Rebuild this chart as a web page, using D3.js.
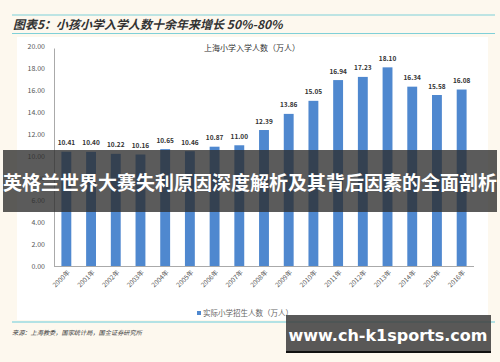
<!DOCTYPE html>
<html><head><meta charset="utf-8">
<script src="https://cdn.jsdelivr.net/npm/d3@7"></script>
<style>html,body{margin:0;padding:0;background:#fdf8ee;}svg{display:block;}</style>
</head><body>
<script>
const years = ["2000年","2001年","2002年","2003年","2004年","2005年","2006年","2007年","2008年","2009年","2010年","2011年","2012年","2013年","2014年","2015年","2016年"];
const enrolment = [10.41,10.40,10.22,10.16,10.65,10.46,10.87,11.00,12.39,13.86,15.05,16.94,17.23,18.10,16.34,15.58,16.08];
const yTicks = [0,2,4,6,8,10,12,14,16,18,20];
const headerText = "图表5：小孩小学入学人数十余年来增长 50%-80%";
const chartTitle = "上海小学入学人数（万人）";
const legendLabel = "实际小学招生人数（万人）";
const sourceText = "来源：上海教委，国家统计局，国金证券研究所";
const overlayText = "英格兰世界大赛失利原因深度解析及其背后因素的全面剖析";
const watermarkText = "www.ch-k1sports.com";

const W = 500, H = 362;
const font = "'Noto Sans CJK SC','Noto Sans',sans-serif";
const svg = d3.select("body").append("svg").attr("width", W).attr("height", H);

svg.append("rect").attr("width", W).attr("height", H).attr("fill", "#fdf8ee");
svg.append("rect").attr("x", 17).attr("y", 37).attr("width", 471).attr("height", 283).attr("fill", "#ffffff");

// header lines
svg.append("line").attr("x1", 12).attr("x2", 495).attr("y1", 15).attr("y2", 15).attr("stroke", "#7fd0d8").attr("stroke-width", 1.2);
svg.append("line").attr("x1", 12).attr("x2", 495).attr("y1", 33.5).attr("y2", 33.5).attr("stroke", "#7fd0d8").attr("stroke-width", 1.2);
svg.append("text").attr("x", 13).attr("y", 28.5).attr("font-family", font).attr("font-size", 12)
  .attr("font-weight", "bold").attr("font-style", "italic").attr("fill", "#333").text(headerText);

const x = d3.scaleBand().domain(years).range([54, 474]).paddingInner(0.6).paddingOuter(0.3);
const y = d3.scaleLinear().domain([0, 20]).range([266, 46.5]);

// y axis labels
svg.append("g").selectAll("text").data(yTicks).join("text")
  .attr("x", 45).attr("y", d => y(d) + 2.5).attr("text-anchor", "end")
  .attr("font-family", font).attr("font-size", 7).attr("fill", "#555")
  .text(d => d.toFixed(2));
svg.append("line").attr("x1", 54.5).attr("x2", 54.5).attr("y1", y(20) + 2).attr("y2", y(0)).attr("stroke", "#aaa");
svg.append("line").attr("x1", 54).attr("x2", 474).attr("y1", y(0) + 0.5).attr("y2", y(0) + 0.5).attr("stroke", "#aaa");

// chart title
svg.append("text").attr("x", 252).attr("y", 51).attr("text-anchor", "middle").attr("font-family", font)
  .attr("font-size", 8).attr("fill", "#333").text(chartTitle);

// bars
svg.append("g").selectAll("rect").data(enrolment).join("rect")
  .attr("x", (d, i) => x(years[i])).attr("width", x.bandwidth())
  .attr("y", d => y(d)).attr("height", d => y(0) - y(d)).attr("fill", "#4f88cf");

// value labels
svg.append("g").selectAll("text").data(enrolment).join("text")
  .attr("x", (d, i) => x(years[i]) + x.bandwidth() / 2).attr("y", d => y(d) - 6.5)
  .attr("text-anchor", "middle").attr("font-family", font).attr("font-size", 6.5).attr("font-weight", "bold")
  .attr("fill", "#333").text(d => d.toFixed(2));

// x labels
svg.append("g").selectAll("text").data(years).join("text")
  .attr("transform", d => `translate(${x(d) + x.bandwidth() / 2 + 4},${y(0) + 7}) rotate(-45)`)
  .attr("text-anchor", "end").attr("font-family", font).attr("font-size", 6.5).attr("fill", "#555").text(d => d);

// legend
svg.append("rect").attr("x", 197).attr("y", 311).attr("width", 4).attr("height", 4).attr("fill", "#4f88cf");
svg.append("text").attr("x", 203).attr("y", 316).attr("font-family", font).attr("font-size", 7.5).attr("fill", "#666").text(legendLabel);

// bottom line and source
svg.append("line").attr("x1", 12).attr("x2", 495).attr("y1", 322).attr("y2", 322).attr("stroke", "#9adbe0").attr("stroke-width", 1.5);
svg.append("text").attr("x", 12).attr("y", 335).attr("font-family", font).attr("font-size", 6.2).attr("font-style", "italic").attr("fill", "#444").text(sourceText);

// overlay band
svg.append("rect").attr("x", 3).attr("y", 150).attr("width", 494).attr("height", 62).attr("fill", "rgba(45,45,45,0.78)");
svg.append("text").attr("x", 250).attr("y", 190).attr("text-anchor", "middle").attr("font-family", font)
  .attr("font-size", 19).attr("font-weight", "bold").attr("fill", "#fff").text(overlayText);

// watermark
svg.append("rect").attr("x", 286).attr("y", 315).attr("width", 205).attr("height", 38).attr("fill", "rgba(60,60,60,0.85)");
svg.append("rect").attr("x", 286).attr("y", 351).attr("width", 205).attr("height", 2).attr("fill", "#111");
svg.append("text").attr("x", 388).attr("y", 341).attr("text-anchor", "middle").attr("font-family", "'DejaVu Sans',sans-serif")
  .attr("font-size", 16).attr("font-weight", "bold").attr("fill", "#fff").text(watermarkText);
</script>
</body></html>
